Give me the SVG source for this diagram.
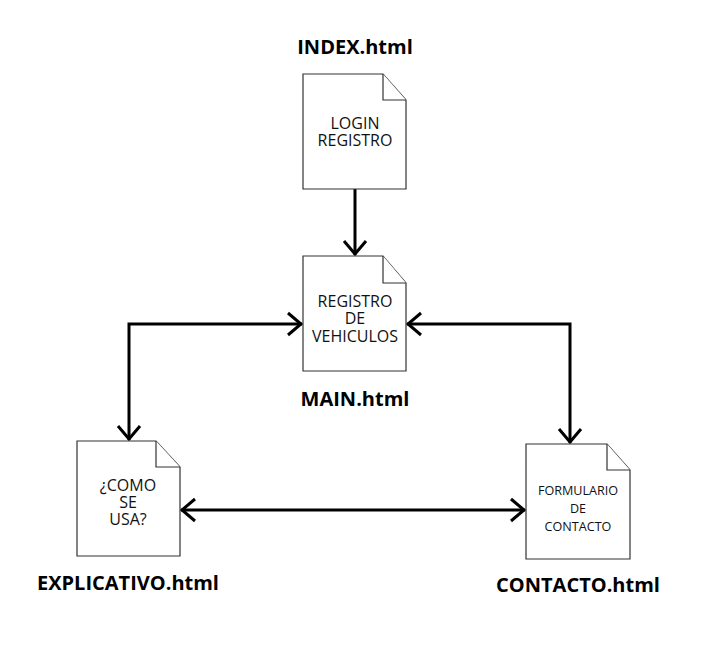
<svg xmlns="http://www.w3.org/2000/svg" width="704" height="652" viewBox="0 0 704 652">
<defs>
<style>
.doc{fill:#ffffff;stroke:#333333;stroke-width:1.2}
.fold{fill:#ffffff;stroke:#333333;stroke-width:1.2}
.t{font-family:"Open Sans","Noto Sans",sans-serif;font-size:16px;fill:#111111;text-anchor:middle}
.ts{font-family:"Open Sans","Noto Sans",sans-serif;font-size:12.6px;fill:#111111;text-anchor:middle}
.lbl{font-family:"Open Sans","Noto Sans",sans-serif;font-size:20px;font-weight:bold;fill:#000000;text-anchor:middle}
.c{fill:none;stroke:#000000;stroke-width:3}
</style>
<marker id="arr" viewBox="0 0 16 26" refX="15" refY="13" markerWidth="16" markerHeight="26" markerUnits="userSpaceOnUse" orient="auto-start-reverse">
<path d="M1,2 L14,13 L1,24" fill="none" stroke="#000000" stroke-width="3"/>
</marker>
</defs>
<rect width="704" height="652" fill="#ffffff"/>
<g id="connectors">
<path class="c" d="M355,189 L355,255" marker-end="url(#arr)"/>
<path class="c" d="M129,440 L129,324 L302,324" marker-start="url(#arr)" marker-end="url(#arr)"/>
<path class="c" d="M407,324 L570,324 L570,443" marker-start="url(#arr)" marker-end="url(#arr)"/>
<path class="c" d="M181,510 L525,510" marker-start="url(#arr)" marker-end="url(#arr)"/>
</g>
<g id="index">
<path class="doc" d="M303,74 L383,74 L406,100 L406,189 L303,189 Z"/>
<path class="fold" d="M383,74 L383,100 L406,100"/>
<text class="t" x="355" y="129">LOGIN</text>
<text class="t" x="355" y="146">REGISTRO</text>
<text class="lbl" x="355" y="54">INDEX.html</text>
</g>
<g id="main">
<path class="doc" d="M303,256 L383,256 L406,283 L406,371 L303,371 Z"/>
<path class="fold" d="M383,256 L383,283 L406,283"/>
<text class="t" x="355" y="307">REGISTRO</text>
<text class="t" x="355" y="324">DE</text>
<text class="t" x="355" y="342">VEHICULOS</text>
<text class="lbl" x="355" y="406">MAIN.html</text>
</g>
<g id="explicativo">
<path class="doc" d="M77,441 L156,441 L180,467 L180,556 L77,556 Z"/>
<path class="fold" d="M156,441 L156,467 L180,467"/>
<text class="t" x="128" y="491">¿COMO</text>
<text class="t" x="128" y="508">SE</text>
<text class="t" x="128" y="525">USA?</text>
<text class="lbl" x="128" y="590">EXPLICATIVO.html</text>
</g>
<g id="contacto">
<path class="doc" d="M526,444 L607,444 L630,470 L630,559 L526,559 Z"/>
<path class="fold" d="M607,444 L607,470 L630,470"/>
<text class="ts" x="578" y="495">FORMULARIO</text>
<text class="ts" x="578" y="513">DE</text>
<text class="ts" x="578" y="531">CONTACTO</text>
<text class="lbl" x="578" y="592">CONTACTO.html</text>
</g>
</svg>
